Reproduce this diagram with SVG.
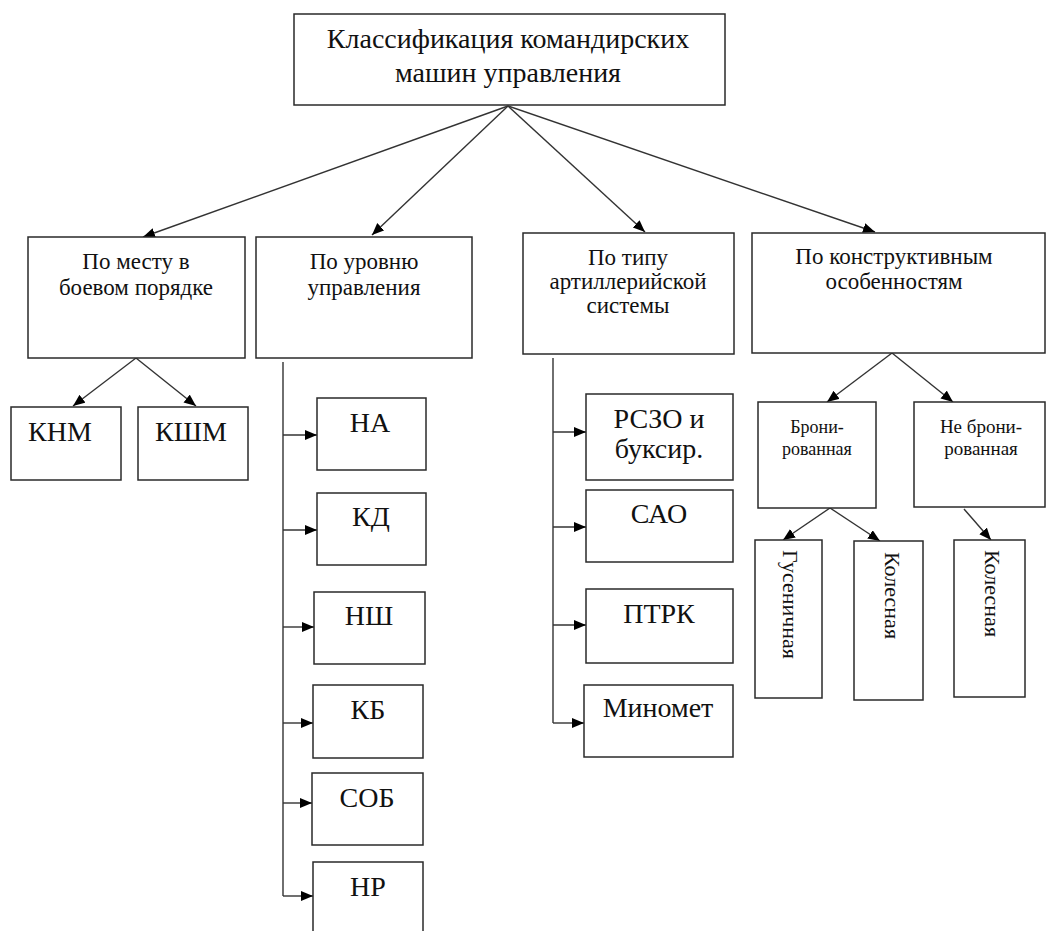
<svg xmlns="http://www.w3.org/2000/svg" width="1046" height="931" viewBox="0 0 1046 931" font-family="'Liberation Serif', 'Times New Roman', serif">
<style>
.box{fill:#fff;stroke:#2a2a2a;stroke-width:1.5}
text{font-family:'Liberation Serif','Times New Roman',serif;fill:#111;text-anchor:middle}
.t1{font-size:28px}
.t2{font-size:23px}
.t3{font-size:28px}
.t4{font-size:18px}
.t5{font-size:22px;text-anchor:start}
.c{stroke:#333;stroke-width:1.4;fill:none}
.ca{stroke:#333;stroke-width:1.4;fill:none;marker-end:url(#ah)}
</style>
<defs>
<marker id="ah" markerUnits="userSpaceOnUse" markerWidth="13" markerHeight="11" refX="12" refY="5" orient="auto">
<path d="M0,0 L12,5 L0,10 z" fill="#000"/>
</marker>
</defs>
<rect width="1046" height="931" fill="#fff"/>
<g id="connectors">
<line class="ca" x1="508" y1="106" x2="143" y2="237"/>
<line class="ca" x1="508" y1="106" x2="372" y2="235"/>
<line class="ca" x1="508" y1="106" x2="645" y2="232"/>
<line class="ca" x1="508" y1="106" x2="875" y2="232"/>
<line class="ca" x1="136" y1="358" x2="73" y2="406"/>
<line class="ca" x1="136" y1="358" x2="196" y2="406"/>
<polyline class="c" points="283,362 283,896"/>
<line class="ca" x1="283" y1="435" x2="317" y2="435"/>
<line class="ca" x1="283" y1="530" x2="317" y2="530"/>
<line class="ca" x1="283" y1="627" x2="314" y2="627"/>
<line class="ca" x1="283" y1="723" x2="313" y2="723"/>
<line class="ca" x1="283" y1="803" x2="312" y2="803"/>
<line class="ca" x1="283" y1="896" x2="313" y2="896"/>
<polyline class="c" points="553,358 553,723"/>
<line class="ca" x1="553" y1="432" x2="586" y2="432"/>
<line class="ca" x1="553" y1="527" x2="586" y2="527"/>
<line class="ca" x1="553" y1="625" x2="586" y2="625"/>
<line class="ca" x1="553" y1="723" x2="584" y2="723"/>
<line class="ca" x1="892" y1="353" x2="827" y2="402"/>
<line class="ca" x1="892" y1="353" x2="953" y2="402"/>
<line class="ca" x1="830" y1="508" x2="783" y2="540"/>
<line class="ca" x1="830" y1="508" x2="880" y2="541"/>
<line class="ca" x1="964" y1="509" x2="991" y2="540"/>
</g>
<g id="root">
<rect class="box" x="294" y="14" width="431" height="91"/>
<text class="t1" x="508" y="48">Классификация командирских</text>
<text class="t1" x="508" y="82">машин управления</text>
</g>
<g id="n-mesto">
<rect class="box" x="28" y="237" width="217" height="121"/>
<text class="t2" x="136" y="269">По месту в</text>
<text class="t2" x="136" y="295">боевом порядке</text>
</g>
<g id="n-uroven">
<rect class="box" x="256" y="237" width="216" height="121"/>
<text class="t2" x="364" y="269">По уровню</text>
<text class="t2" x="364" y="295">управления</text>
</g>
<g id="n-tip">
<rect class="box" x="523" y="233" width="211" height="121"/>
<text class="t2" x="628" y="265">По типу</text>
<text class="t2" x="628" y="289">артиллерийской</text>
<text class="t2" x="628" y="313">системы</text>
</g>
<g id="n-konstr">
<rect class="box" x="752" y="233" width="293" height="120"/>
<text class="t2" x="894" y="264">По конструктивным</text>
<text class="t2" x="894" y="289">особенностям</text>
</g>
<g id="n-knm">
<rect class="box" x="11" y="407" width="110" height="73"/>
<text class="t3" x="60" y="441">КНМ</text>
</g>
<g id="n-kshm">
<rect class="box" x="138" y="407" width="110" height="73"/>
<text class="t3" x="191" y="441">КШМ</text>
</g>
<g id="n-na">
<rect class="box" x="317" y="398" width="109" height="72"/>
<text class="t3" x="370" y="432">НА</text>
</g>
<g id="n-kd">
<rect class="box" x="317" y="493" width="109" height="72"/>
<text class="t3" x="371" y="526">КД</text>
</g>
<g id="n-nsh">
<rect class="box" x="314" y="592" width="111" height="72"/>
<text class="t3" x="369" y="625">НШ</text>
</g>
<g id="n-kb">
<rect class="box" x="313" y="685" width="110" height="73"/>
<text class="t3" x="368" y="719">КБ</text>
</g>
<g id="n-sob">
<rect class="box" x="312" y="773" width="111" height="72"/>
<text class="t3" x="367" y="807">СОБ</text>
</g>
<g id="n-nr">
<rect class="box" x="313" y="862" width="110" height="75"/>
<text class="t3" x="368" y="896">НР</text>
</g>
<g id="n-rszo">
<rect class="box" x="586" y="394" width="147" height="86"/>
<text class="t3" x="659" y="428">РСЗО и</text>
<text class="t3" x="659" y="458">буксир.</text>
</g>
<g id="n-sao">
<rect class="box" x="586" y="490" width="147" height="72"/>
<text class="t3" x="659" y="523">САО</text>
</g>
<g id="n-ptrk">
<rect class="box" x="586" y="589" width="147" height="74"/>
<text class="t3" x="659" y="623">ПТРК</text>
</g>
<g id="n-minomet">
<rect class="box" x="584" y="685" width="149" height="72"/>
<text class="t3" x="658" y="717">Миномет</text>
</g>
<g id="n-bron">
<rect class="box" x="758" y="402" width="118" height="106"/>
<text class="t4" x="817" y="433">Брони-</text>
<text class="t4" x="817" y="455">рованная</text>
</g>
<g id="n-nebron">
<rect class="box" x="914" y="402" width="131" height="105"/>
<text class="t4" x="981" y="433" style="font-size:19px">Не брони-</text>
<text class="t4" x="981" y="455" style="font-size:19px">рованная</text>
</g>
<g id="n-gus">
<rect class="box" x="755" y="540" width="67" height="158"/>
<text class="t5" transform="translate(783,550) rotate(90)">Гусеничная</text>
</g>
<g id="n-kol1">
<rect class="box" x="854" y="541" width="69" height="159"/>
<text class="t5" transform="translate(885,552) rotate(90)">Колесная</text>
</g>
<g id="n-kol2">
<rect class="box" x="954" y="540" width="71" height="157"/>
<text class="t5" transform="translate(985,550) rotate(90)">Колесная</text>
</g>
</svg>
